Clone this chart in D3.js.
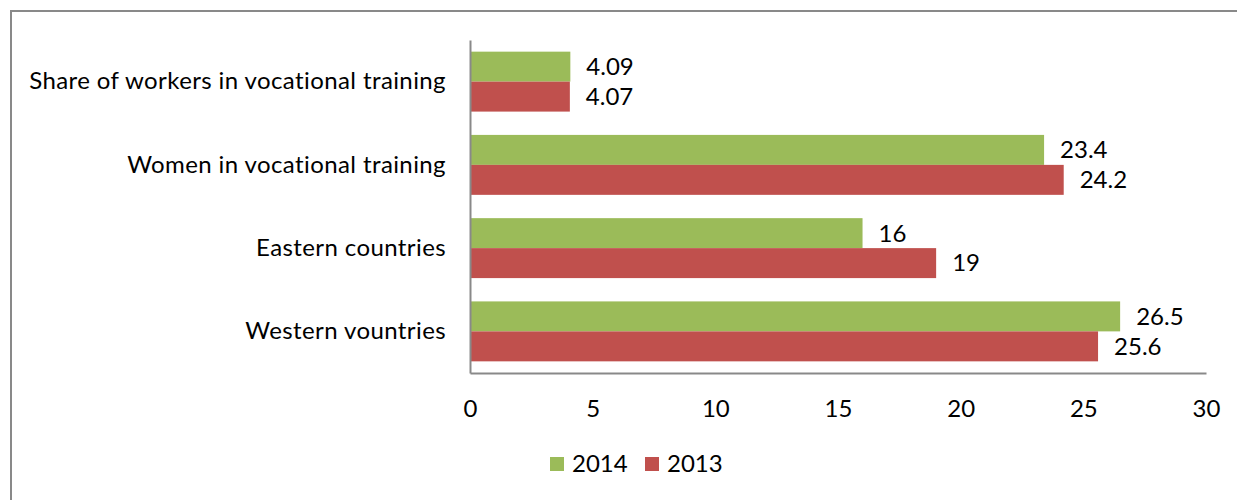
<!DOCTYPE html>
<html>
<head>
<meta charset="utf-8">
<script src="https://cdn.jsdelivr.net/npm/d3@7"></script>
<style>
  body { margin: 0; background: #fff; }
  text { font-family: Lato, "Open Sans", sans-serif; fill: #000; }
</style>
</head>
<body>
<div id="chart"></div>
<script>
// data
const CATEGORIES = ["Share of workers in vocational training", "Women in vocational training", "Eastern countries", "Western vountries"];
const SERIES = ["2014", "2013"];
const VALUES_2014 = [4.09, 23.4, 16, 26.5];
const VALUES_2013 = [4.07, 24.2, 19, 25.6];
const X_TICKS = [0, 5, 10, 15, 20, 25, 30];
const COLORS = ["#9BBB59", "#C0504D"];

const FRAME_WIDTH = 1237;
const FRAME_HEIGHT = 500;
const PLOT = { left: 470, right: 1206, top: 40, bottom: 373 };
const FONT_SIZE = "24px";

const FRAME = d3.select("#chart")
    .append("svg")
    .attr("width", FRAME_WIDTH)
    .attr("height", FRAME_HEIGHT);

// outer border (runs off the right and bottom edge)
FRAME.append("rect")
    .attr("x", 11).attr("y", 11)
    .attr("width", FRAME_WIDTH + 20).attr("height", FRAME_HEIGHT + 20)
    .attr("fill", "none")
    .attr("stroke", "#898989")
    .attr("stroke-width", 2);

const X_SCALE = d3.scaleLinear()
    .domain([0, 30])
    .range([PLOT.left, PLOT.right]);

const Y_SCALE = d3.scaleBand()
    .domain(CATEGORIES)
    .range([PLOT.top, PLOT.bottom])
    .paddingInner(0.28)
    .paddingOuter(0.14);

const SUB_SCALE = d3.scaleBand()
    .domain(SERIES)
    .range([0, Y_SCALE.bandwidth()]);

const rows = CATEGORIES.map((c, i) => ({ cat: c, values: [VALUES_2014[i], VALUES_2013[i]] }));

// bars
const groups = FRAME.selectAll(".group")
    .data(rows)
    .enter()
    .append("g")
    .attr("transform", (d) => "translate(0," + Y_SCALE(d.cat) + ")");

groups.selectAll("rect")
    .data((d) => d.values.map((v, j) => ({ series: SERIES[j], value: v, idx: j })))
    .enter()
    .append("rect")
    .attr("x", X_SCALE(0))
    .attr("y", (d) => SUB_SCALE(d.series))
    .attr("width", (d) => X_SCALE(d.value) - X_SCALE(0))
    .attr("height", SUB_SCALE.bandwidth())
    .style("fill", (d) => COLORS[d.idx]);

// value labels
groups.selectAll(".val")
    .data((d) => d.values.map((v, j) => ({ series: SERIES[j], value: v })))
    .enter()
    .append("text")
    .attr("x", (d) => X_SCALE(d.value) + 16)
    .attr("y", (d) => SUB_SCALE(d.series) + SUB_SCALE.bandwidth() / 2)
    .attr("dy", "0.35em")
    .attr("font-size", FONT_SIZE)
    .text((d) => d.value);

// x axis
const xAxis = FRAME.append("g")
    .attr("transform", "translate(0," + PLOT.bottom + ")")
    .call(d3.axisBottom(X_SCALE).tickValues(X_TICKS).tickSize(0).tickPadding(27));
xAxis.select(".domain").attr("stroke", "#898989").attr("stroke-width", 2);
xAxis.selectAll("text").attr("font-size", FONT_SIZE).attr("font-family", "Lato");

// y axis
const yAxis = FRAME.append("g")
    .attr("transform", "translate(" + PLOT.left + ",0)")
    .call(d3.axisLeft(Y_SCALE).tickSize(0).tickPadding(24));
yAxis.select(".domain").attr("stroke", "#898989").attr("stroke-width", 2);
yAxis.selectAll("text").attr("font-size", FONT_SIZE).attr("font-family", "Lato")
    .attr("letter-spacing", "0.4px");

// legend
const LEGEND_X = [550, 645];
const legend = FRAME.selectAll(".legend")
    .data(SERIES)
    .enter()
    .append("g")
    .attr("transform", (d, i) => "translate(" + LEGEND_X[i] + ",457)");
legend.append("rect")
    .attr("width", 14).attr("height", 14)
    .style("fill", (d, i) => COLORS[i]);
legend.append("text")
    .attr("x", 22).attr("y", 7)
    .attr("dy", "0.35em")
    .attr("font-size", FONT_SIZE)
    .text((d) => d);
</script>
</body>
</html>
